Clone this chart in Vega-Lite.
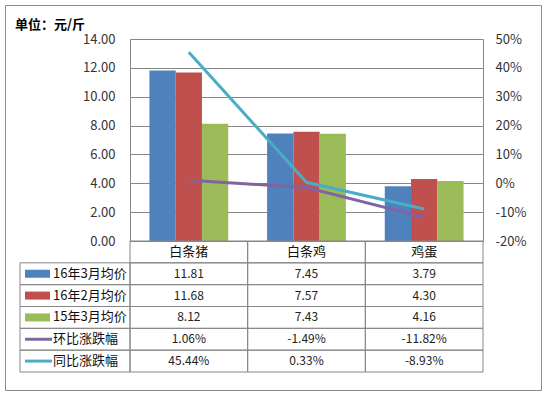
{
  "$schema": "https://vega.github.io/schema/vega-lite/v6.json",
  "width": 536,
  "height": 385,
  "autosize": {"type": "none"},
  "padding": {"left": 5, "top": 5, "right": 7, "bottom": 6},
  "background": "white",
  "title": {"text": "单位：元/斤", "anchor": "start", "frame": "group", "offset": -27, "dx": 10, "fontSize": 13, "fontWeight": "bold", "font": "Noto Sans CJK SC", "color": "#000000"},
  "config": {
    "view": {"stroke": "#8c8c8c", "strokeWidth": 1},
    "locale": {"number": {"decimal": ".", "thousands": ",", "grouping": [3], "currency": ["", ""], "minus": "-"}},
    "axis": {"labelFont": "Noto Sans CJK SC", "labelFontSize": 13, "labelColor": "#333333", "domainColor": "#868686", "gridColor": "#868686", "ticks": false, "title": null},
    "text": {"font": "Noto Sans CJK SC"}
  },
  "datasets": {
    "bars": [
      {"cat": "白条猪", "series": "16年3月均价", "value": 11.81},
      {"cat": "白条猪", "series": "16年2月均价", "value": 11.68},
      {"cat": "白条猪", "series": "15年3月均价", "value": 8.12},
      {"cat": "白条鸡", "series": "16年3月均价", "value": 7.45},
      {"cat": "白条鸡", "series": "16年2月均价", "value": 7.57},
      {"cat": "白条鸡", "series": "15年3月均价", "value": 7.43},
      {"cat": "鸡蛋", "series": "16年3月均价", "value": 3.79},
      {"cat": "鸡蛋", "series": "16年2月均价", "value": 4.30},
      {"cat": "鸡蛋", "series": "15年3月均价", "value": 4.16}
    ],
    "lines": [
      {"cat": "白条猪", "series": "环比涨跌幅", "value": 0.0106},
      {"cat": "白条鸡", "series": "环比涨跌幅", "value": -0.0149},
      {"cat": "鸡蛋", "series": "环比涨跌幅", "value": -0.1182},
      {"cat": "白条猪", "series": "同比涨跌幅", "value": 0.4544},
      {"cat": "白条鸡", "series": "同比涨跌幅", "value": 0.0033},
      {"cat": "鸡蛋", "series": "同比涨跌幅", "value": -0.0893}
    ],
    "legend": [
      {"series": "16年3月均价", "kind": "bar"},
      {"series": "16年2月均价", "kind": "bar"},
      {"series": "15年3月均价", "kind": "bar"},
      {"series": "环比涨跌幅", "kind": "line"},
      {"series": "同比涨跌幅", "kind": "line"}
    ]
  },
  "resolve": {"scale": {"x": "independent", "y": "independent"}},
  "layer": [
    {
      "data": {"name": "bars"},
      "mark": {"type": "bar"},
      "encoding": {
        "x": {"field": "cat", "type": "nominal", "axis": null, "scale": {"type": "band", "domain": ["白条猪", "白条鸡", "鸡蛋"], "range": [125, 478], "paddingInner": 0, "paddingOuter": 0}},
        "xOffset": {"field": "series", "type": "nominal", "scale": {"domain": ["16年3月均价", "16年2月均价", "15年3月均价"], "paddingInner": 0, "paddingOuter": 0.74}},
        "y": {"field": "value", "type": "quantitative", "scale": {"domain": [0, 14], "range": [236, 34], "nice": false, "zero": true},
              "axis": {"orient": "left", "offset": -125, "values": [0, 2, 4, 6, 8, 10, 12, 14], "format": ".2f", "labelPadding": 15, "grid": true, "domain": true}},
        "color": {"field": "series", "type": "nominal", "legend": null, "scale": {"domain": ["16年3月均价", "16年2月均价", "15年3月均价", "环比涨跌幅", "同比涨跌幅"], "range": ["#4F81BD", "#C0504D", "#9BBB59", "#8064A2", "#4BACC6"]}}
      }
    },
    {
      "data": {"name": "lines"},
      "mark": {"type": "line", "strokeWidth": 3},
      "encoding": {
        "x": {"field": "cat", "type": "nominal", "axis": null, "bandPosition": 0.5, "scale": {"type": "band", "domain": ["白条猪", "白条鸡", "鸡蛋"], "range": [125, 478], "paddingInner": 0, "paddingOuter": 0}},
        "y": {"field": "value", "type": "quantitative", "scale": {"domain": [-0.2, 0.5], "range": [236, 34], "nice": false, "zero": false},
              "axis": {"orient": "right", "offset": -58, "values": [-0.2, -0.1, 0, 0.1, 0.2, 0.3, 0.4, 0.5], "format": ".0%", "labelPadding": 12, "grid": false, "domain": true}},
        "color": {"field": "series", "type": "nominal", "legend": null, "scale": {"domain": ["16年3月均价", "16年2月均价", "15年3月均价", "环比涨跌幅", "同比涨跌幅"], "range": ["#4F81BD", "#C0504D", "#9BBB59", "#8064A2", "#4BACC6"]}}
      }
    },
    {
      "data": {"name": "bars"},
      "mark": {"type": "rect", "fillOpacity": 0, "stroke": "#868686", "strokeWidth": 1},
      "encoding": {
        "x": {"field": "cat", "type": "nominal", "axis": null, "scale": {"type": "band", "domain": ["白条猪", "白条鸡", "鸡蛋"], "range": [125, 478], "paddingInner": 0, "paddingOuter": 0}},
        "y": {"field": "series", "type": "nominal", "axis": null, "scale": {"type": "band", "domain": ["类别", "16年3月均价", "16年2月均价", "15年3月均价", "环比涨跌幅", "同比涨跌幅"], "range": [236, 367], "paddingInner": 0, "paddingOuter": 0}}
      }
    },
    {
      "data": {"name": "bars"},
      "mark": {"type": "text", "fontSize": 12, "color": "#222222"},
      "encoding": {
        "x": {"field": "cat", "type": "nominal", "axis": null, "scale": {"type": "band", "domain": ["白条猪", "白条鸡", "鸡蛋"], "range": [125, 478], "paddingInner": 0, "paddingOuter": 0}},
        "y": {"field": "series", "type": "nominal", "axis": null, "scale": {"type": "band", "domain": ["类别", "16年3月均价", "16年2月均价", "15年3月均价", "环比涨跌幅", "同比涨跌幅"], "range": [236, 367], "paddingInner": 0, "paddingOuter": 0}},
        "text": {"field": "value", "type": "quantitative", "format": ".2f"}
      }
    },
    {
      "data": {"name": "lines"},
      "mark": {"type": "rect", "fillOpacity": 0, "stroke": "#868686", "strokeWidth": 1},
      "encoding": {
        "x": {"field": "cat", "type": "nominal", "axis": null, "scale": {"type": "band", "domain": ["白条猪", "白条鸡", "鸡蛋"], "range": [125, 478], "paddingInner": 0, "paddingOuter": 0}},
        "y": {"field": "series", "type": "nominal", "axis": null, "scale": {"type": "band", "domain": ["类别", "16年3月均价", "16年2月均价", "15年3月均价", "环比涨跌幅", "同比涨跌幅"], "range": [236, 367], "paddingInner": 0, "paddingOuter": 0}}
      }
    },
    {
      "data": {"name": "lines"},
      "mark": {"type": "text", "fontSize": 12, "color": "#222222"},
      "encoding": {
        "x": {"field": "cat", "type": "nominal", "axis": null, "scale": {"type": "band", "domain": ["白条猪", "白条鸡", "鸡蛋"], "range": [125, 478], "paddingInner": 0, "paddingOuter": 0}},
        "y": {"field": "series", "type": "nominal", "axis": null, "scale": {"type": "band", "domain": ["类别", "16年3月均价", "16年2月均价", "15年3月均价", "环比涨跌幅", "同比涨跌幅"], "range": [236, 367], "paddingInner": 0, "paddingOuter": 0}},
        "text": {"field": "value", "type": "quantitative", "format": ".2%"}
      }
    },
    {
      "data": {"name": "bars"},
      "transform": [{"filter": "datum.series === '16年3月均价'"}],
      "mark": {"type": "rect", "fillOpacity": 0, "stroke": "#868686", "strokeWidth": 1},
      "encoding": {
        "x": {"field": "cat", "type": "nominal", "axis": null, "scale": {"type": "band", "domain": ["白条猪", "白条鸡", "鸡蛋"], "range": [125, 478], "paddingInner": 0, "paddingOuter": 0}},
        "y": {"datum": "类别", "type": "nominal", "axis": null, "scale": {"type": "band", "domain": ["类别", "16年3月均价", "16年2月均价", "15年3月均价", "环比涨跌幅", "同比涨跌幅"], "range": [236, 367], "paddingInner": 0, "paddingOuter": 0}}
      }
    },
    {
      "data": {"name": "bars"},
      "transform": [{"filter": "datum.series === '16年3月均价'"}],
      "mark": {"type": "text", "fontSize": 13, "color": "#111111"},
      "encoding": {
        "x": {"field": "cat", "type": "nominal", "axis": null, "scale": {"type": "band", "domain": ["白条猪", "白条鸡", "鸡蛋"], "range": [125, 478], "paddingInner": 0, "paddingOuter": 0}},
        "y": {"datum": "类别", "type": "nominal", "axis": null, "scale": {"type": "band", "domain": ["类别", "16年3月均价", "16年2月均价", "15年3月均价", "环比涨跌幅", "同比涨跌幅"], "range": [236, 367], "paddingInner": 0, "paddingOuter": 0}},
        "text": {"field": "cat", "type": "nominal"}
      }
    },
    {
      "data": {"name": "legend"},
      "mark": {"type": "rect", "fillOpacity": 0, "stroke": "#868686", "strokeWidth": 1},
      "encoding": {
        "x": {"datum": "图例", "type": "nominal", "axis": null, "scale": {"type": "band", "domain": ["图例"], "range": [15, 125], "paddingInner": 0, "paddingOuter": 0}},
        "y": {"field": "series", "type": "nominal", "axis": null, "scale": {"type": "band", "domain": ["类别", "16年3月均价", "16年2月均价", "15年3月均价", "环比涨跌幅", "同比涨跌幅"], "range": [236, 367], "paddingInner": 0, "paddingOuter": 0}}
      }
    },
    {
      "data": {"name": "legend"},
      "transform": [{"filter": "datum.kind === 'bar'"}],
      "mark": {"type": "point", "filled": true, "opacity": 1, "strokeWidth": 0, "shape": "M-1,-0.32H1V0.32H-1Z", "size": 625},
      "encoding": {
        "x": {"datum": "图例", "type": "nominal", "axis": null, "bandPosition": 0.159, "scale": {"type": "band", "domain": ["图例"], "range": [15, 125], "paddingInner": 0, "paddingOuter": 0}},
        "y": {"field": "series", "type": "nominal", "axis": null, "scale": {"type": "band", "domain": ["类别", "16年3月均价", "16年2月均价", "15年3月均价", "环比涨跌幅", "同比涨跌幅"], "range": [236, 367], "paddingInner": 0, "paddingOuter": 0}},
        "color": {"field": "series", "type": "nominal", "legend": null, "scale": {"domain": ["16年3月均价", "16年2月均价", "15年3月均价", "环比涨跌幅", "同比涨跌幅"], "range": ["#4F81BD", "#C0504D", "#9BBB59", "#8064A2", "#4BACC6"]}}
      }
    },
    {
      "data": {"name": "legend"},
      "transform": [{"filter": "datum.kind === 'line'"}],
      "mark": {"type": "point", "filled": true, "opacity": 1, "strokeWidth": 0, "shape": "M-1,-0.11H1V0.11H-1Z", "size": 729},
      "encoding": {
        "x": {"datum": "图例", "type": "nominal", "axis": null, "bandPosition": 0.168, "scale": {"type": "band", "domain": ["图例"], "range": [15, 125], "paddingInner": 0, "paddingOuter": 0}},
        "y": {"field": "series", "type": "nominal", "axis": null, "scale": {"type": "band", "domain": ["类别", "16年3月均价", "16年2月均价", "15年3月均价", "环比涨跌幅", "同比涨跌幅"], "range": [236, 367], "paddingInner": 0, "paddingOuter": 0}},
        "color": {"field": "series", "type": "nominal", "legend": null, "scale": {"domain": ["16年3月均价", "16年2月均价", "15年3月均价", "环比涨跌幅", "同比涨跌幅"], "range": ["#4F81BD", "#C0504D", "#9BBB59", "#8064A2", "#4BACC6"]}}
      }
    },
    {
      "data": {"name": "legend"},
      "mark": {"type": "text", "fontSize": 13, "align": "left", "color": "#111111"},
      "encoding": {
        "x": {"datum": "图例", "type": "nominal", "axis": null, "bandPosition": 0.3, "scale": {"type": "band", "domain": ["图例"], "range": [15, 125], "paddingInner": 0, "paddingOuter": 0}},
        "y": {"field": "series", "type": "nominal", "axis": null, "scale": {"type": "band", "domain": ["类别", "16年3月均价", "16年2月均价", "15年3月均价", "环比涨跌幅", "同比涨跌幅"], "range": [236, 367], "paddingInner": 0, "paddingOuter": 0}},
        "text": {"field": "series", "type": "nominal"}
      }
    }
  ]
}
